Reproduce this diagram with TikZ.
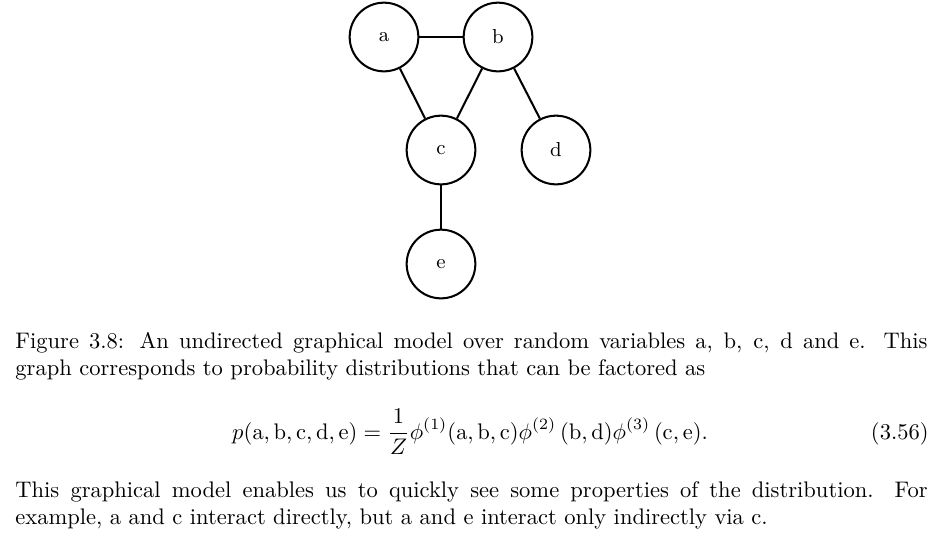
\documentclass[tikz,border=0pt]{standalone}
\usepackage{amsmath}
\usepackage{tikz}
\usetikzlibrary{positioning}
\tikzset{
  rv/.style={circle, draw, line width=0.9pt, minimum size=30.5pt, inner sep=0pt, font=\small},
  link/.style={line width=0.9pt},
  txt/.style={anchor=base west, inner sep=0pt}
}
\newcommand{\rmv}[1]{\mathrm{#1}}

\begin{document}
\begin{tikzpicture}[x=0.444pt, y=-0.444pt]
\useasboundingbox (0,0) rectangle (945,541);
% Variables
\node[rv] (a) at (384,37) {a};
\node[rv] (b) at (498,37) {b};
\node[rv] (c) at (441,150) {c};
\node[rv] (d) at (556,150) {d};
\node[rv] (e) at (441,264) {e};
% Edges
\draw[link] (a) -- (b);
\draw[link] (a) -- (c);
\draw[link] (b) -- (c);
\draw[link] (b) -- (d);
\draw[link] (c) -- (e);
% Caption
\node[txt] (cap1) at (15,348) {\hbox to 405pt{Figure 3.8: An undirected graphical model over random variables a, b, c, d and e. This}};
\node[txt] (cap2) at (15,375) {graph corresponds to probability distributions that can be factored as};
% Equation
\node[anchor=base, inner sep=0pt] (eq) at (470,439) {$\displaystyle p(\rmv{a},\rmv{b},\rmv{c},\rmv{d},\rmv{e}) = \frac{1}{Z}\phi^{(1)}(\rmv{a},\rmv{b},\rmv{c})\phi^{(2)}\,(\rmv{b},\rmv{d})\phi^{(3)}\,(\rmv{c},\rmv{e}).$};
\node[anchor=base east, inner sep=0pt] (eqnum) at (929,439) {(3.56)};
% Paragraph
\node[txt] (par1) at (15,497) {\hbox to 405pt{This graphical model enables us to quickly see some properties of the distribution. For}};
\node[txt] (par2) at (15,524) {example, a and c interact directly, but a and e interact only indirectly via c.};
\end{tikzpicture}
\end{document}
